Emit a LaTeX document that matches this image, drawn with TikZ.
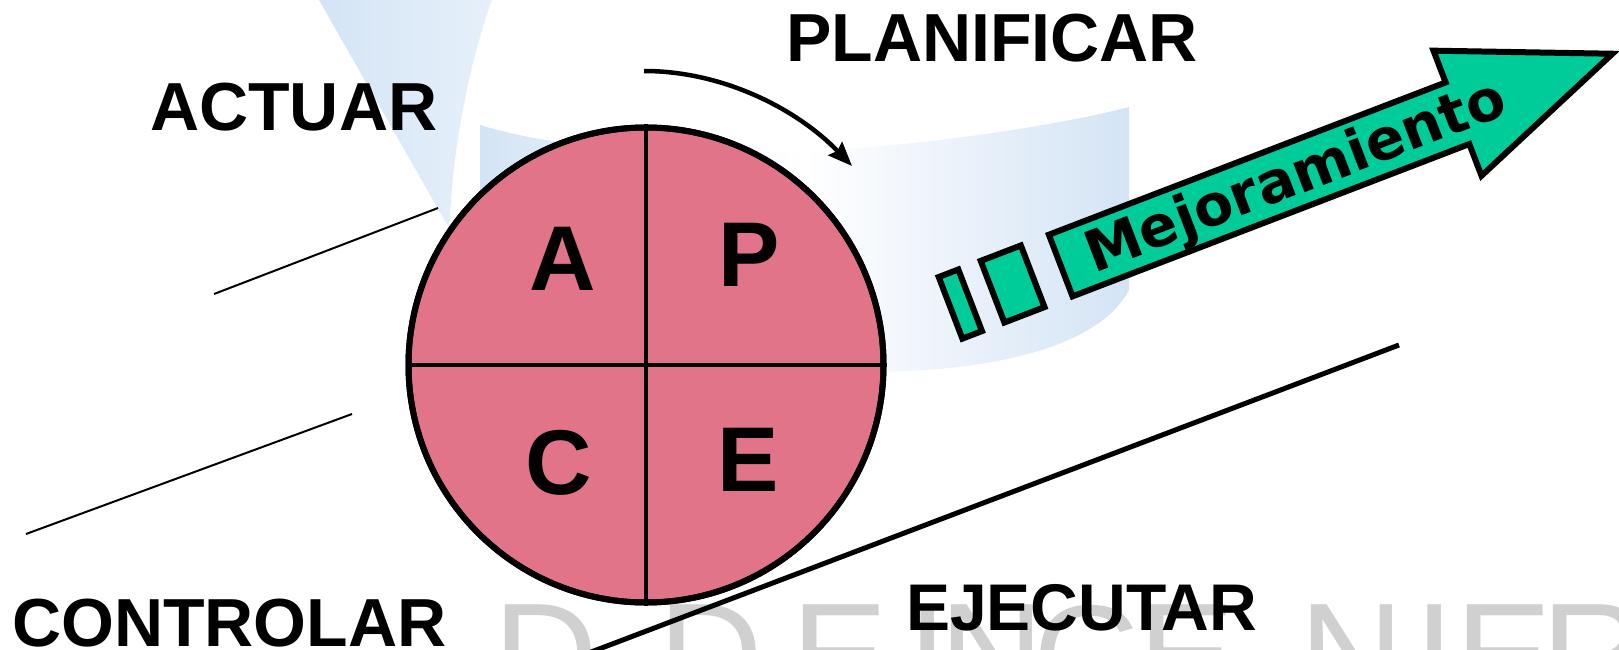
\documentclass[tikz,border=0pt]{standalone}
\usepackage{fontspec}
\setmainfont{Liberation Sans}
\newfontfamily\dejavu{DejaVu Sans}
\usetikzlibrary{arrows.meta}
\definecolor{pinkfill}{RGB}{226,116,137}
\definecolor{greenfill}{RGB}{0,204,153}
\definecolor{wmblue}{RGB}{212,228,245}
\definecolor{wmbluelight}{RGB}{230,240,250}
\definecolor{wmgray}{RGB}{208,208,208}
\begin{document}
\begin{tikzpicture}[x=1pt,y=-1pt,
  biglabel/.style={font=\bfseries\fontsize{68}{80}\selectfont, inner sep=0pt, anchor=base west},
  quad/.style={font=\bfseries\fontsize{92}{100}\selectfont, inner sep=0pt, anchor=base},
  wmletter/.style={font=\fontsize{145}{150}\selectfont, text=wmgray, inner sep=0pt, anchor=north west},
  thinline/.style={line width=2pt},
  greenshape/.style={fill=greenfill, draw=black, line width=6pt, line join=miter},
]
\useasboundingbox (0,0) rectangle (1619,650);
\fill[white] (0,0) rectangle (1619,650);

% faint watermark
\shade[left color=wmblue, right color=wmbluelight] (319,0) -- (492,0) .. controls (470,60) and (455,140) .. (451,200) -- (449,228) -- cycle;
\shade[left color=wmblue, right color=wmblue, middle color=white]
  (480,125) .. controls (560,150) and (700,160) .. (860,148)
  .. controls (980,138) and (1080,120) .. (1129,107) -- (1129,290)
  .. controls (1100,345) and (1000,370) .. (880,372) -- (480,372) -- cycle;
\node[wmletter] (w1) at (493,605) {D};
\node[wmletter] (w2) at (658,605) {D};
\node[wmletter] (w3) at (791,605) {E};
\node[wmletter] (w4) at (907,605) {I};
\node[wmletter] (w5) at (939,605) {N};
\node[wmletter] (w6) at (1033,605) {G};
\node[wmletter] (w7) at (1138,605) {E};
\node[wmletter] (w8) at (1299,605) {N};
\node[wmletter] (w9) at (1414,605) {I};
\node[wmletter] (w10) at (1455,605) {E};
\node[wmletter] (w11) at (1541,605) {R};

% lines
\coordinate (l1a) at (214,294); \coordinate (l1b) at (438,208);
\coordinate (l2a) at (26,534);  \coordinate (l2b) at (352,414);
\coordinate (l3a) at (578,657); \coordinate (l3b) at (1399,345);
\draw[thinline] (l1a) -- (l1b);
\draw[thinline] (l2a) -- (l2b);
\draw[line width=5pt] (l3b) -- (l3a);

% circle
\node[circle, draw=black, line width=6pt, fill=pinkfill, minimum size=475pt, inner sep=0pt] (cyc) at (646,365) {};
\draw[line width=4.5pt] (cyc.north) -- (cyc.south);
\draw[line width=4.5pt] (cyc.west) -- (cyc.east);
\node[circle, draw=black, line width=6pt, minimum size=475pt, inner sep=0pt] (cycb) at (646,365) {};

\node[quad] (qa) at (563,290) {A};
\node[quad] (qp) at (749,286) {P};
\node[quad] (qc) at (559,494) {C};
\node[quad] (qe) at (748,491) {E};

% labels
\node[biglabel] (planificar) at (786,62) {PLANIFICAR};
\node[biglabel] (actuar) at (150,131) {ACTUAR};
\node[biglabel] (controlar) at (12,646) {CONTROLAR};
\node[biglabel, font=\bfseries\fontsize{66}{80}\selectfont] (ejecutar) at (906,630) {EJECUTAR};

% curved arrow
\coordinate (arcS) at (644,71); \coordinate (arcE) at (852,166);
\draw[line width=4.5pt, -{Stealth[length=24pt,width=19pt,inset=3pt]}] (arcS) .. controls (723,71) and (797,109) .. (arcE);

% improvement arrow
\begin{scope}[shift={(1045,233)}, rotate=21]
  \draw[greenshape] (3,3) coordinate (b1) -- (428,3) -- (428,-31) -- (594,36) coordinate (tip) -- (428,103) -- (428,69) -- (3,69) -- cycle;
  \draw[greenshape] (-70,3) rectangle (-27,69);
  \draw[greenshape] (-115,3) rectangle (-94,69);
  \node[font=\dejavu\bfseries\fontsize{57}{60}\selectfont, rotate=21, inner sep=0pt, anchor=base] (mej) at (254,55) {Mejoramiento};
\end{scope}
\end{tikzpicture}
\end{document}
